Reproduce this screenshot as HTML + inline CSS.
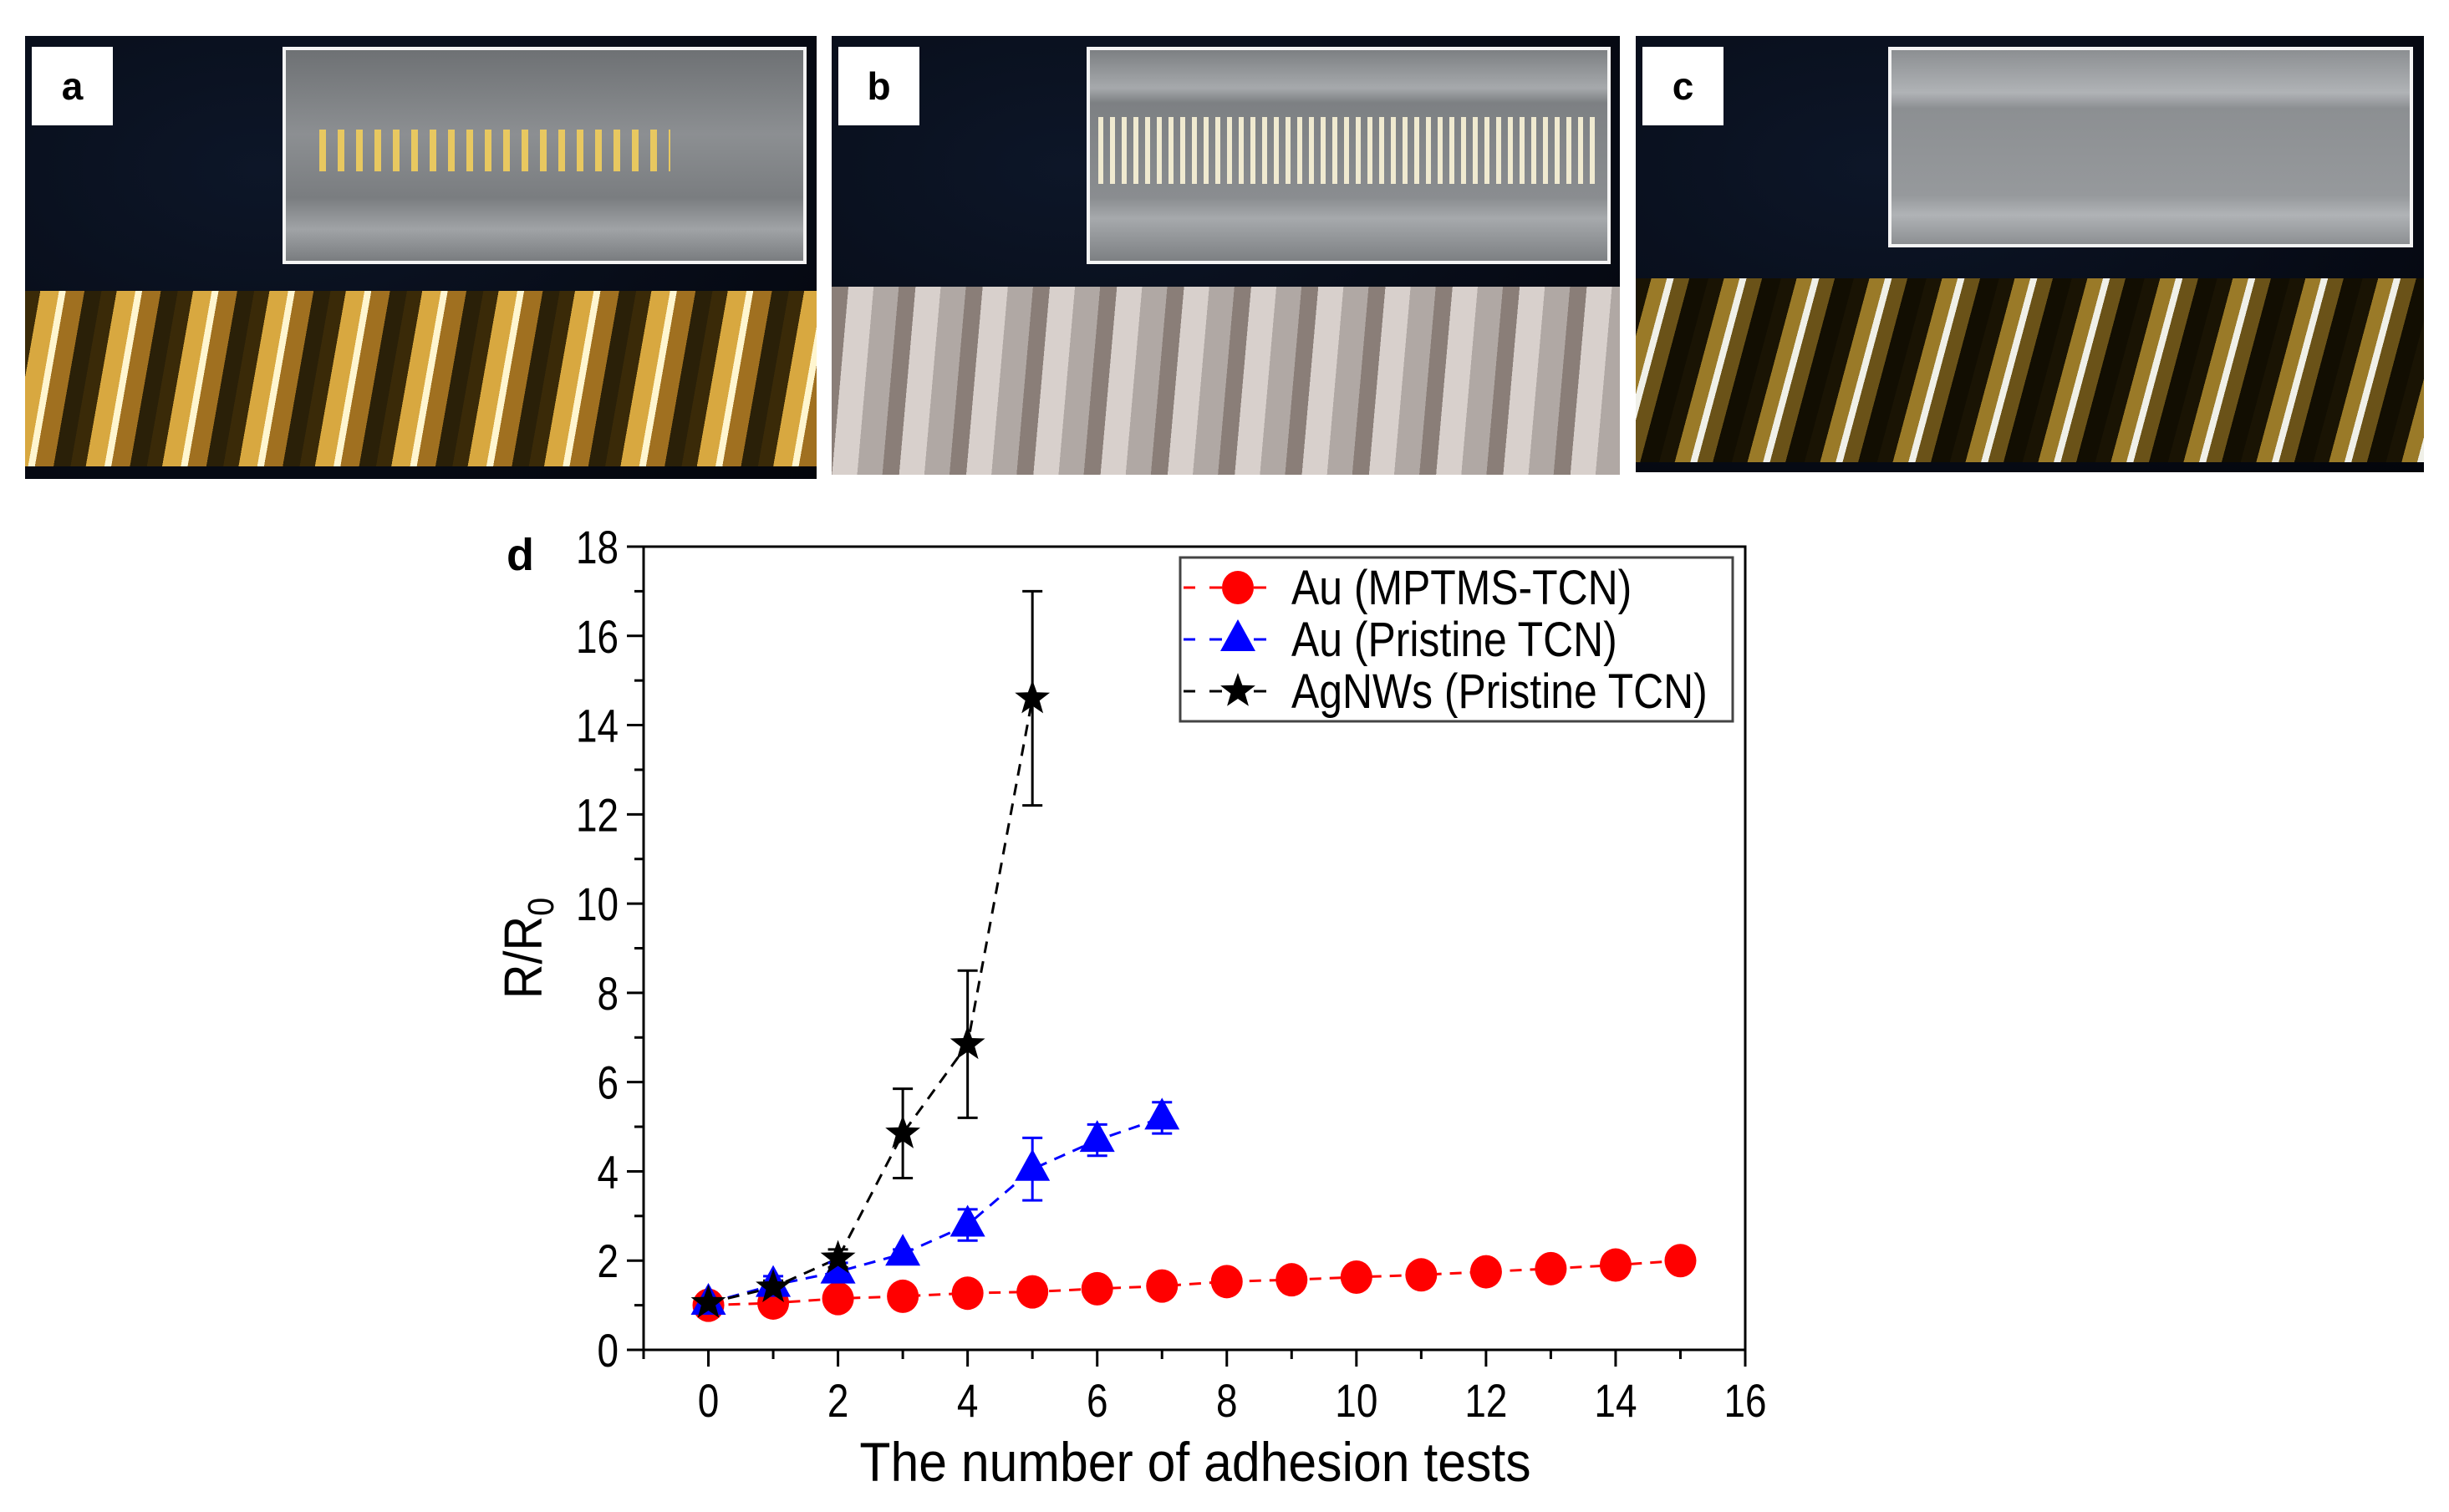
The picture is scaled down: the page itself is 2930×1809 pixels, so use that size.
<!DOCTYPE html>
<html><head><meta charset="utf-8"><style>
body{margin:0;background:#fff;width:2930px;height:1809px;overflow:hidden;position:relative;font-family:"Liberation Sans",sans-serif}
.panel{position:absolute;background:radial-gradient(ellipse at 30% 30%,#0d1628 0%,#060a14 70%,#03050b 100%);overflow:hidden}
.inset{position:absolute;border:4px solid #f4f4f4;background:repeating-linear-gradient(90deg,#7a7d80 0 6px,#9a9da0 6px 12px),#888}
.coil{position:absolute;left:0;right:0}
.lbl{position:absolute;background:#fff;font:bold 46px "Liberation Sans",sans-serif;color:#000;text-align:center;line-height:94px;width:97px;height:94px}
</style></head><body>
<div class="panel" style="left:30px;top:43px;width:947px;height:530px">
 <div class="coil" style="top:305px;height:210px;background:repeating-linear-gradient(100deg,#3a2a08 0 18px,#d8a840 18px 40px,#fff6d0 40px 48px,#a07020 48px 70px,#2a2008 70px 90px)"></div>
 <div class="inset" style="left:308px;top:13px;width:619px;height:252px;background:linear-gradient(#6e7174,#8c8f92 40%,#7a7d80 70%,#a0a3a6 85%,#7a7d80)">
  <div style="position:absolute;left:40px;top:95px;width:420px;height:50px;background:repeating-linear-gradient(90deg,#e8c860 0 8px,transparent 8px 22px)"></div>
 </div>
 <div class="lbl" style="left:8px;top:13px">a</div>
</div>
<div class="panel" style="left:995px;top:43px;width:943px;height:525px">
 <div class="coil" style="top:300px;height:225px;background:repeating-linear-gradient(95deg,#8a7e78 0 20px,#d8d0cc 20px 50px,#b0a8a4 50px 80px)"></div>
 <div class="inset" style="left:305px;top:13px;width:619px;height:252px;background:linear-gradient(#7d8083,#a6a9ac 18%,#7d8083 25%,#8a8d90 70%,#a6a9ac 80%,#7d8083)">
  <div style="position:absolute;left:10px;top:80px;width:600px;height:80px;background:repeating-linear-gradient(90deg,#f0ead0 0 6px,transparent 6px 14px)"></div>
 </div>
 <div class="lbl" style="left:8px;top:13px">b</div>
</div>
<div class="panel" style="left:1957px;top:43px;width:943px;height:522px">
 <div class="coil" style="top:290px;height:220px;background:repeating-linear-gradient(105deg,#1a1404 0 18px,#9a7a28 18px 36px,#f0f0e8 36px 44px,#6a5218 44px 62px,#120e02 62px 84px)"></div>
 <div class="inset" style="left:302px;top:13px;width:620px;height:232px;background:linear-gradient(#8c8f92,#b0b3b6 22%,#8c8f92 30%,#96999c 75%,#b0b3b6 85%,#8c8f92)"></div>
 <div class="lbl" style="left:8px;top:13px">c</div>
</div>

<svg id="chart" width="2930" height="1809" style="position:absolute;left:0;top:0" xmlns="http://www.w3.org/2000/svg"></svg>
<script>
const xCats=[0,1,2,3,4,5,6,7,8,9,10,11,12,13,14,15];
const redVals=[1.0,1.05,1.15,1.2,1.27,1.3,1.37,1.43,1.53,1.57,1.63,1.68,1.75,1.82,1.9,2.0];
const blueX=[0,1,2,3,4,5,6,7];
const blueVals=[1.05,1.45,1.75,2.15,2.8,4.05,4.7,5.2];
const blueErr=[0.2,0.2,0.2,0.1,0.35,0.7,0.35,0.35];
const blackX=[0,1,2,3,4,5];
const blackVals=[1.05,1.4,2.05,4.85,6.85,14.6];
const blackErr=[0.15,0.15,0.2,1.0,1.65,2.4];
const xTicks=[0,2,4,6,8,10,12,14,16];
const yTicks=[0,2,4,6,8,10,12,14,16,18];

const NS="http://www.w3.org/2000/svg";
const svg=document.getElementById('chart');
const L=770,R=2088,T=654,B=1615;
const xmin=-1,xmax=16,ymin=0,ymax=18;
const X=v=>L+(v-xmin)/(xmax-xmin)*(R-L);
const Y=v=>B-(v-ymin)/(ymax-ymin)*(B-T);
const FF='"Liberation Sans",sans-serif';
function mk(tag,attrs){const e=document.createElementNS(NS,tag);for(const k in attrs)e.setAttribute(k,attrs[k]);svg.appendChild(e);return e;}
function txt(x,y,s,size,sx,anchor){const e=mk('text',{transform:`translate(${x},${y}) scale(${sx},1)`,'font-family':FF,'font-size':size,'text-anchor':anchor});e.textContent=s;return e;}

let e=mk('rect',{x:L,y:T,width:R-L,height:B-T,fill:'none',stroke:'#000','stroke-width':3});


for(let v=-1;v<=16;v++){
  const major=xTicks.includes(v);
  e=mk('line',{x1:X(v),x2:X(v),y1:B,y2:B+(major?20:11),stroke:'#000','stroke-width':3});
  
  
}
xTicks.forEach(v=>{
  e=txt(X(v),B+80,String(v),56,0.82,'middle');
  
  
});
for(let v=0;v<=18;v++){
  const major=v%2===0;
  e=mk('line',{x1:L,x2:L-(major?20:11),y1:Y(v),y2:Y(v),stroke:'#000','stroke-width':3});
  
  
}
yTicks.forEach(v=>{
  e=txt(L-30,Y(v)+20,String(v),56,0.82,'end');
  
  
});
e=txt(1430,1772,'The number of adhesion tests',66,0.92,'middle');


e=mk('text',{transform:`translate(648,${(T+B)/2}) rotate(-90) scale(0.9,1)`,'font-family':FF,'font-size':64,'text-anchor':'middle'});
e.innerHTML='R/R<tspan font-size="44" dy="14">0</tspan>';


e=mk('text',{x:606,y:682,'font-family':FF,'font-size':54,'font-weight':'bold'});e.textContent='d';



function line(xs,ys,col,name){
  e=mk('polyline',{points:xs.map((x,i)=>X(x)+','+Y(ys[i])).join(' '),fill:'none',stroke:col,'stroke-width':3,'stroke-dasharray':'14 10'});
  
  
}
function errs(xs,ys,es,col,name){
  xs.forEach((x,i)=>{
    const cx=X(x),y1=Y(ys[i]-es[i]),y2=Y(ys[i]+es[i]);
    e=mk('path',{d:`M${cx},${y1}V${y2}M${cx-12},${y1}H${cx+12}M${cx-12},${y2}H${cx+12}`,stroke:col,'stroke-width':3,fill:'none'});
    
    
  });
}
function circ(cx,cy,name){e=mk('ellipse',{cx:cx,cy:cy,rx:19,ry:20,fill:'#f00'});
  
  }
function tri(cx,cy,name){e=mk('path',{d:`M${cx},${cy-24}L${cx+21},${cy+14}L${cx-21},${cy+14}Z`,fill:'#00f'});
  
  }
function star(cx,cy,name){let p='';for(let k=0;k<10;k++){const r=k%2?9:22,a=-Math.PI/2+k*Math.PI/5;p+=(k?'L':'M')+(cx+r*Math.cos(a))+','+(cy+r*Math.sin(a));}
  e=mk('path',{d:p+'Z',fill:'#000'});
  
  }

line(xCats,redVals,'#f00','red-series-line');
line(blueX,blueVals,'#00f','blue-series-line');
line(blackX,blackVals,'#000','black-series-line');
errs(blueX,blueVals,blueErr,'#00f','blue-error-bar');
errs(blackX,blackVals,blackErr,'#000','black-error-bar');
xCats.forEach((x,i)=>circ(X(x),Y(redVals[i]),'red-point'));
blueX.forEach((x,i)=>tri(X(x),Y(blueVals[i]),'blue-point'));
blackX.forEach((x,i)=>star(X(x),Y(blackVals[i]),'black-point'));

e=mk('rect',{x:1412,y:667,width:661,height:196,fill:'#fff',stroke:'#444','stroke-width':3});


const legNames=['Au (MPTMS-TCN)','Au (Pristine TCN)','AgNWs (Pristine TCN)'];
const legCols=['#f00','#00f','#000'];
legNames.forEach((n,i)=>{
  const cy=703+i*62;
  e=mk('path',{d:`M1416,${cy}H1430M1447,${cy}H1462M1500,${cy}H1515`,stroke:legCols[i],'stroke-width':3,fill:'none'});
  
  
  if(i===0)circ(1481,cy,'legend-marker');else if(i===1)tri(1481,cy,'legend-marker');else star(1481,cy,'legend-marker');
  e=txt(1545,cy+20,n,58,0.86,'start');
  
  
});
</script>
</body></html>
